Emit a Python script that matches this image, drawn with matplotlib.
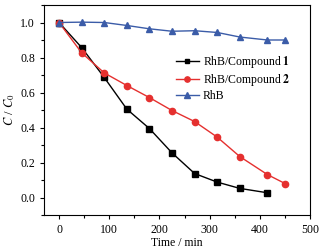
import matplotlib
matplotlib.use("Agg")
import matplotlib.pyplot as plt
from matplotlib.ticker import MultipleLocator

plt.rcParams['font.family'] = ['Liberation Serif', 'DejaVu Serif']
plt.rcParams['mathtext.fontset'] = 'stix'

time_c1 = [0, 45, 90, 135, 180, 225, 270, 315, 360, 415]
c1 = [1.0, 0.857, 0.686, 0.505, 0.394, 0.255, 0.137, 0.088, 0.052, 0.027]
time_c2 = [0, 45, 90, 135, 180, 225, 270, 315, 360, 415, 450]
c2 = [1.0, 0.827, 0.712, 0.640, 0.571, 0.497, 0.434, 0.345, 0.234, 0.131, 0.080]
time_rhb = [0, 45, 90, 135, 180, 225, 270, 315, 360, 415, 450]
rhb = [1.0, 1.002, 1.0, 0.983, 0.964, 0.950, 0.953, 0.943, 0.917, 0.900, 0.900]
labels = ["RhB/Compound $\\mathbf{1}$", "RhB/Compound $\\mathbf{2}$", "RhB"]

fig = plt.figure(figsize=(3.21, 2.5), dpi=100)
ax = fig.add_axes([0.137, 0.14, 0.829, 0.84])

ax.plot(time_c1, c1, '-s', color='black', lw=1.0, ms=4, label=labels[0])
ax.plot(time_c2, c2, '-o', color='#e5302f', lw=1.0, ms=4.5, label=labels[1])
ax.plot(time_rhb, rhb, '-^', color='#3b5ca8', lw=1.0, ms=4.5, label=labels[2])

ax.set_xlim(-30, 500)
ax.set_ylim(-0.1, 1.1)
ax.xaxis.set_major_locator(MultipleLocator(100))
ax.xaxis.set_minor_locator(MultipleLocator(50))
ax.yaxis.set_major_locator(MultipleLocator(0.2))
ax.yaxis.set_minor_locator(MultipleLocator(0.1))
ax.tick_params(which='both', direction='out', labelsize=8.5, top=False, right=False)
ax.tick_params(which='major', length=3, width=0.8)
ax.tick_params(which='minor', length=2, width=0.8)
for s in ax.spines.values():
    s.set_linewidth(0.8)

ax.set_xlabel("Time / min", fontsize=8.5, labelpad=1)
ax.set_ylabel("$C$ / $C_0$", fontsize=9, labelpad=2)

leg = ax.legend(loc='upper left', bbox_to_anchor=(0.496, 0.765), frameon=False,
                fontsize=8.5, handlelength=1.95, handletextpad=0.3,
                labelspacing=0.15, borderaxespad=0, borderpad=0,
                markerscale=0.85)

fig.savefig("out.png", dpi=100)
